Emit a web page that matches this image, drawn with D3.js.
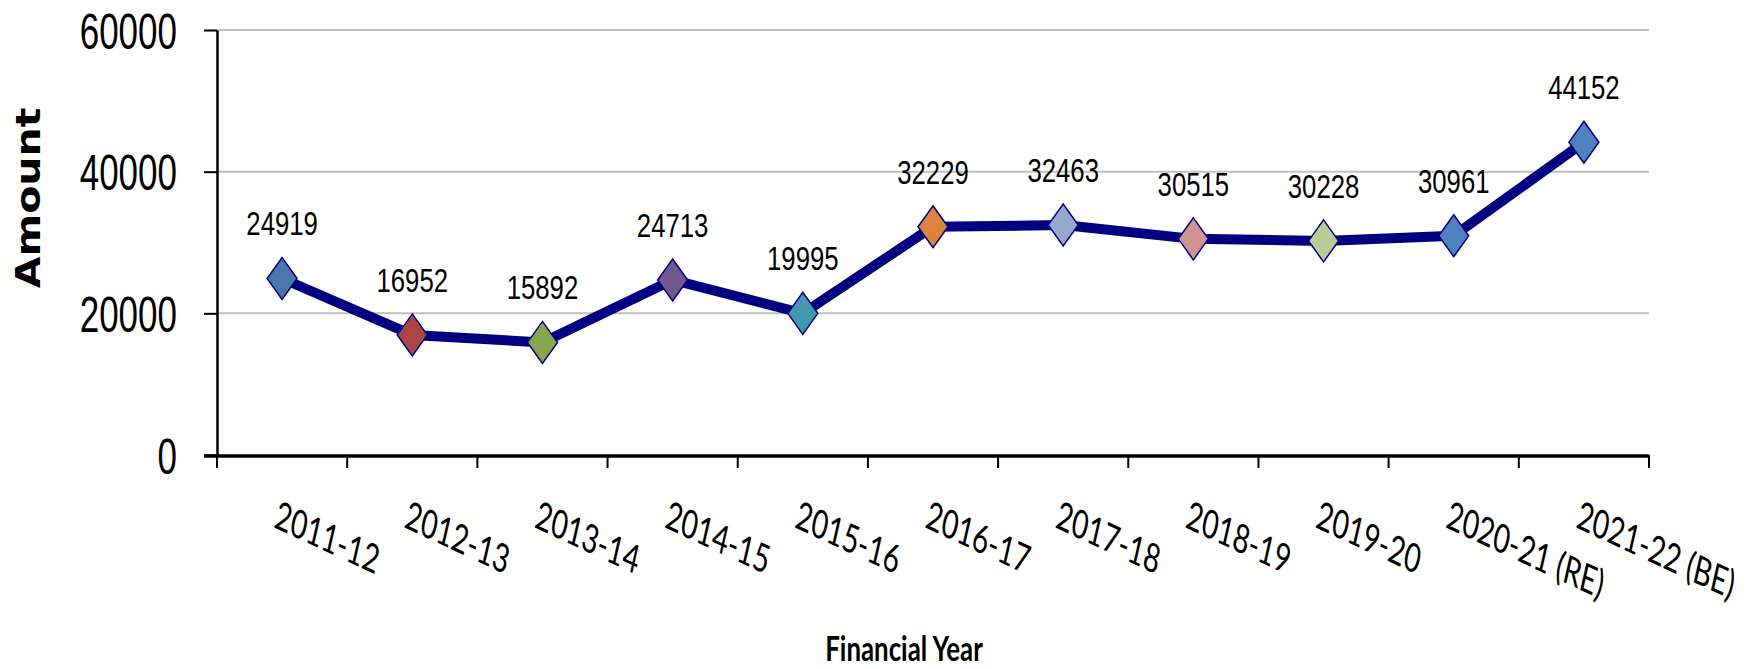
<!DOCTYPE html>
<html>
<head>
<meta charset="utf-8">
<script src="https://cdn.jsdelivr.net/npm/d3@7"></script>
<style>
  html, body { margin: 0; padding: 0; background: #fff; }
  svg { display: block; }
</style>
</head>
<body>
<div id="chart"></div>
<script>
// chart values
var years = ["2011-12", "2012-13", "2013-14", "2014-15", "2015-16", "2016-17",
             "2017-18", "2018-19", "2019-20", "2020-21 (RE)", "2021-22 (BE)"];
var amounts = [24919, 16952, 15892, 24713, 19995, 32229, 32463, 30515, 30228, 30961, 44152];
var markerColors = ["#4a76a8", "#aa4643", "#89a54e", "#71588f", "#4198af", "#db843d",
                    "#93a9cf", "#d19392", "#b9cd96", "#4f81bd", "#4f81bd"];
var yTicks = [0, 20000, 40000, 60000];

var width = 1758, height = 669;
var plotLeft = 217, plotRight = 1649, plotTop = 30, plotBottom = 455;
var squash = 0.8; // the picture is narrower than it is tall

var svg = d3.select("#chart").append("svg")
    .attr("width", width)
    .attr("height", height);

var x = d3.scaleBand()
    .domain(years)
    .range([plotLeft, plotRight])
    .padding(0);

var y = d3.scaleLinear()
    .domain([0, 60000])
    .range([plotBottom, plotTop]);

// gridlines
svg.append("g").selectAll("line")
    .data(yTicks.slice(1))
  .enter().append("line")
    .attr("x1", plotLeft).attr("x2", plotRight)
    .attr("y1", function(d) { return y(d); })
    .attr("y2", function(d) { return y(d); })
    .attr("stroke", "#c0c0c0")
    .attr("stroke-width", 2);

// y axis
var yAxis = svg.append("g")
    .attr("transform", "translate(" + plotLeft + ",0)")
    .call(d3.axisLeft(y).tickValues(yTicks).tickFormat(d3.format("d")).tickSize(13).tickSizeOuter(0));
yAxis.select(".domain").attr("stroke", "#000").attr("stroke-width", 2.5);
yAxis.selectAll(".tick line").attr("stroke", "#000").attr("stroke-width", 2);
yAxis.selectAll(".tick text")
    .attr("x", 0).attr("dy", "0.36em")
    .attr("transform", "translate(-40,0) scale(0.7,1)")
    .style("font-family", "'Liberation Sans', Arial, sans-serif")
    .style("font-size", "50px")
    .attr("fill", "#000");

// x axis, ticks sit between the categories
var xg = svg.append("g");
xg.selectAll("line.tk")
    .data(years.concat(["end"]))
  .enter().append("line")
    .attr("class", "tk")
    .attr("x1", function(d, i) { return i < years.length ? x(d) : plotRight; })
    .attr("x2", function(d, i) { return i < years.length ? x(d) : plotRight; })
    .attr("y1", plotBottom)
    .attr("y2", plotBottom + 13)
    .attr("stroke", "#000")
    .attr("stroke-width", 2);
xg.append("line")
    .attr("x1", plotLeft - 13).attr("x2", plotRight)
    .attr("y1", plotBottom + 1).attr("y2", plotBottom + 1)
    .attr("stroke", "#000")
    .attr("stroke-width", 3.5);

xg.selectAll("text")
    .data(years)
  .enter().append("text")
    .attr("transform", function(d) {
      return "translate(" + (x(d) + x.bandwidth() / 2 - 9) + "," + (plotBottom + 72) + ") scale(0.7,1) rotate(18)";
    })
    .style("font-family", "Lato, 'Open Sans', sans-serif")
    .style("font-size", "40px")
    .attr("fill", "#000")
    .text(function(d) { return d; });

// line
var line = d3.line()
    .x(function(d, i) { return x(years[i]) + x.bandwidth() / 2; })
    .y(function(d) { return y(d); });

svg.append("path")
    .datum(amounts)
    .attr("d", line)
    .attr("fill", "none")
    .attr("stroke", "#000080")
    .attr("stroke-width", 10)
    .attr("stroke-linejoin", "round");

// diamond markers
svg.append("g").selectAll("path")
    .data(amounts)
  .enter().append("path")
    .attr("transform", function(d, i) {
      return "translate(" + (x(years[i]) + x.bandwidth() / 2) + "," + y(d) + ")";
    })
    .attr("d", "M0,-21L15,0L0,21L-15,0Z")
    .attr("fill", function(d, i) { return markerColors[i]; })
    .attr("stroke", "#000080")
    .attr("stroke-width", 1.5);

// value labels
svg.append("g").selectAll("text")
    .data(amounts)
  .enter().append("text")
    .attr("transform", function(d, i) {
      return "translate(" + (x(years[i]) + x.bandwidth() / 2) + "," + (y(d) - 43) + ") scale(0.78,1)";
    })
    .attr("text-anchor", "middle")
    .style("font-family", "'Liberation Sans', Arial, sans-serif")
    .style("font-size", "33px")
    .attr("fill", "#000")
    .text(function(d) { return d; });

// axis titles
svg.append("text")
    .attr("transform", "translate(40,198) scale(0.83,1) rotate(-90)")
    .attr("text-anchor", "middle")
    .style("font-family", "'DejaVu Sans', Verdana, sans-serif")
    .style("font-weight", "bold")
    .style("font-size", "41px")
    .attr("fill", "#000")
    .text("Amount");

svg.append("text")
    .attr("transform", "translate(904,661) scale(0.76,1)")
    .attr("text-anchor", "middle")
    .style("font-family", "Lato, 'Open Sans', sans-serif")
    .style("font-weight", "bold")
    .style("font-size", "34px")
    .attr("fill", "#000")
    .text("Financial Year");
</script>
</body>
</html>
